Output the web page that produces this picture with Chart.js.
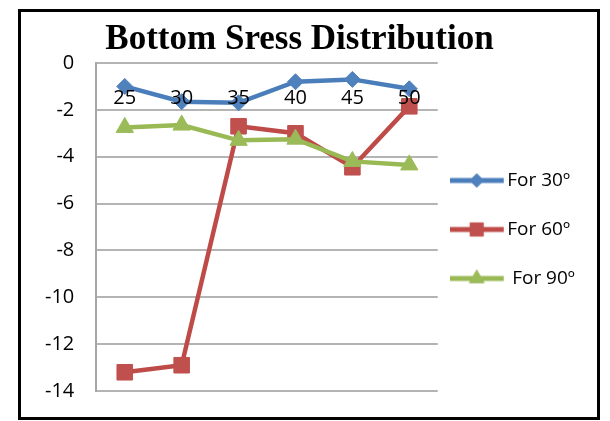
<!DOCTYPE html>
<html>
<head>
<meta charset="utf-8">
<script src="https://cdn.jsdelivr.net/npm/chart.js@4.4.0/dist/chart.umd.min.js"></script>
<style>
body { margin: 0; background: #fff; }
#frame { position: absolute; left: 18px; top: 9px; width: 576px; height: 405px; border: 3px solid #000; background: #fff; overflow: hidden; }
canvas { display: block; }
</style>
</head>
<body>
<div id="frame"><canvas id="stressChart" width="576" height="413"></canvas></div>
<script>
// values
var angles = ['25', '30', '35', '40', '45', '50'];
var for30 = [-1.0, -1.65, -1.7, -0.8, -0.7, -1.1];
var for60 = [-13.2, -12.9, -2.7, -3.0, -4.45, -1.85];
var for90 = [-2.75, -2.65, -3.3, -3.25, -4.2, -4.35];
var seriesNames = ['For 30º', 'For 60º', ' For 90º'];
var yMin = -14, yMax = 0, yStep = 2;

var lineColors = ['#4a7ebb', '#be4b48', '#98b954'];
var markerColors = ['#4f81bd', '#c0504d', '#9bbb59'];
var markerStyles = ['rectRot', 'rect', 'triangle'];
var markerSizes = [8, 11, 10];
var labelFont = { family: 'Open Sans', size: 20 };
var legendFont = { family: 'Open Sans', size: 19 };

// little line + marker picture for the legend
function legendIcon(i) {
    var c = document.createElement('canvas');
    c.width = 66;
    c.height = 24;
    var g = c.getContext('2d');
    g.strokeStyle = lineColors[i];
    g.lineWidth = 5;
    g.beginPath();
    g.moveTo(0, 12);
    g.lineTo(54, 12);
    g.stroke();
    g.fillStyle = markerColors[i];
    g.strokeStyle = markerColors[i];
    g.lineWidth = 1;
    Chart.helpers.drawPoint(g, { pointStyle: markerStyles[i], radius: markerSizes[i] * 0.85, rotation: 0, borderWidth: 1 }, 27, 12);
    return c;
}

function makeSet(i, values) {
    return {
        label: seriesNames[i],
        data: values,
        borderColor: lineColors[i],
        backgroundColor: markerColors[i],
        pointBackgroundColor: markerColors[i],
        pointBorderColor: markerColors[i],
        pointStyle: markerStyles[i],
        pointRadius: markerSizes[i],
        pointBorderWidth: 1,
        borderWidth: 4.5,
        tension: 0,
        order: 3 - i
    };
}

var ctx = document.getElementById('stressChart').getContext('2d');
var stressChart = new Chart(ctx, {
    type: 'line',
    data: {
        labels: angles,
        datasets: [makeSet(0, for30), makeSet(1, for60), makeSet(2, for90)]
    },
    options: {
        responsive: false,
        animation: false,
        layout: { padding: { left: 2, right: 21, top: 0, bottom: 4 } },
        plugins: {
            title: {
                display: true,
                text: 'Bottom Sress Distribution',
                color: '#000',
                font: { family: 'Liberation Serif', size: 35, weight: 'bold' },
                padding: { top: 7, bottom: 2 }
            },
            legend: {
                position: 'right',
                title: { display: true, text: ' ', font: { size: 10 }, padding: 7 },
                labels: {
                    usePointStyle: true,
                    pointStyleWidth: 30,
                    padding: 30,
                    color: '#000',
                    font: legendFont,
                    generateLabels: function(chart) {
                        return chart.data.datasets.map(function(ds, i) {
                            return {
                                text: ds.label,
                                pointStyle: legendIcon(i),
                                fillStyle: markerColors[i],
                                strokeStyle: markerColors[i],
                                lineWidth: 0,
                                fontColor: '#000',
                                hidden: false,
                                datasetIndex: i
                            };
                        });
                    }
                }
            },
            tooltip: { enabled: false }
        },
        scales: {
            x: {
                position: { y: 0 },
                offset: true,
                grid: { display: false, drawTicks: false },
                border: { display: false },
                ticks: { z: 1, color: '#000', padding: 23, font: labelFont }
            },
            y: {
                min: yMin,
                max: yMax,
                ticks: { stepSize: yStep, padding: 22, color: '#000', font: labelFont },
                grid: { color: '#b4b4b4', lineWidth: 2, drawTicks: false },
                border: { color: '#a6a6a6', width: 2 }
            }
        }
    }
});
</script>
</body>
</html>
